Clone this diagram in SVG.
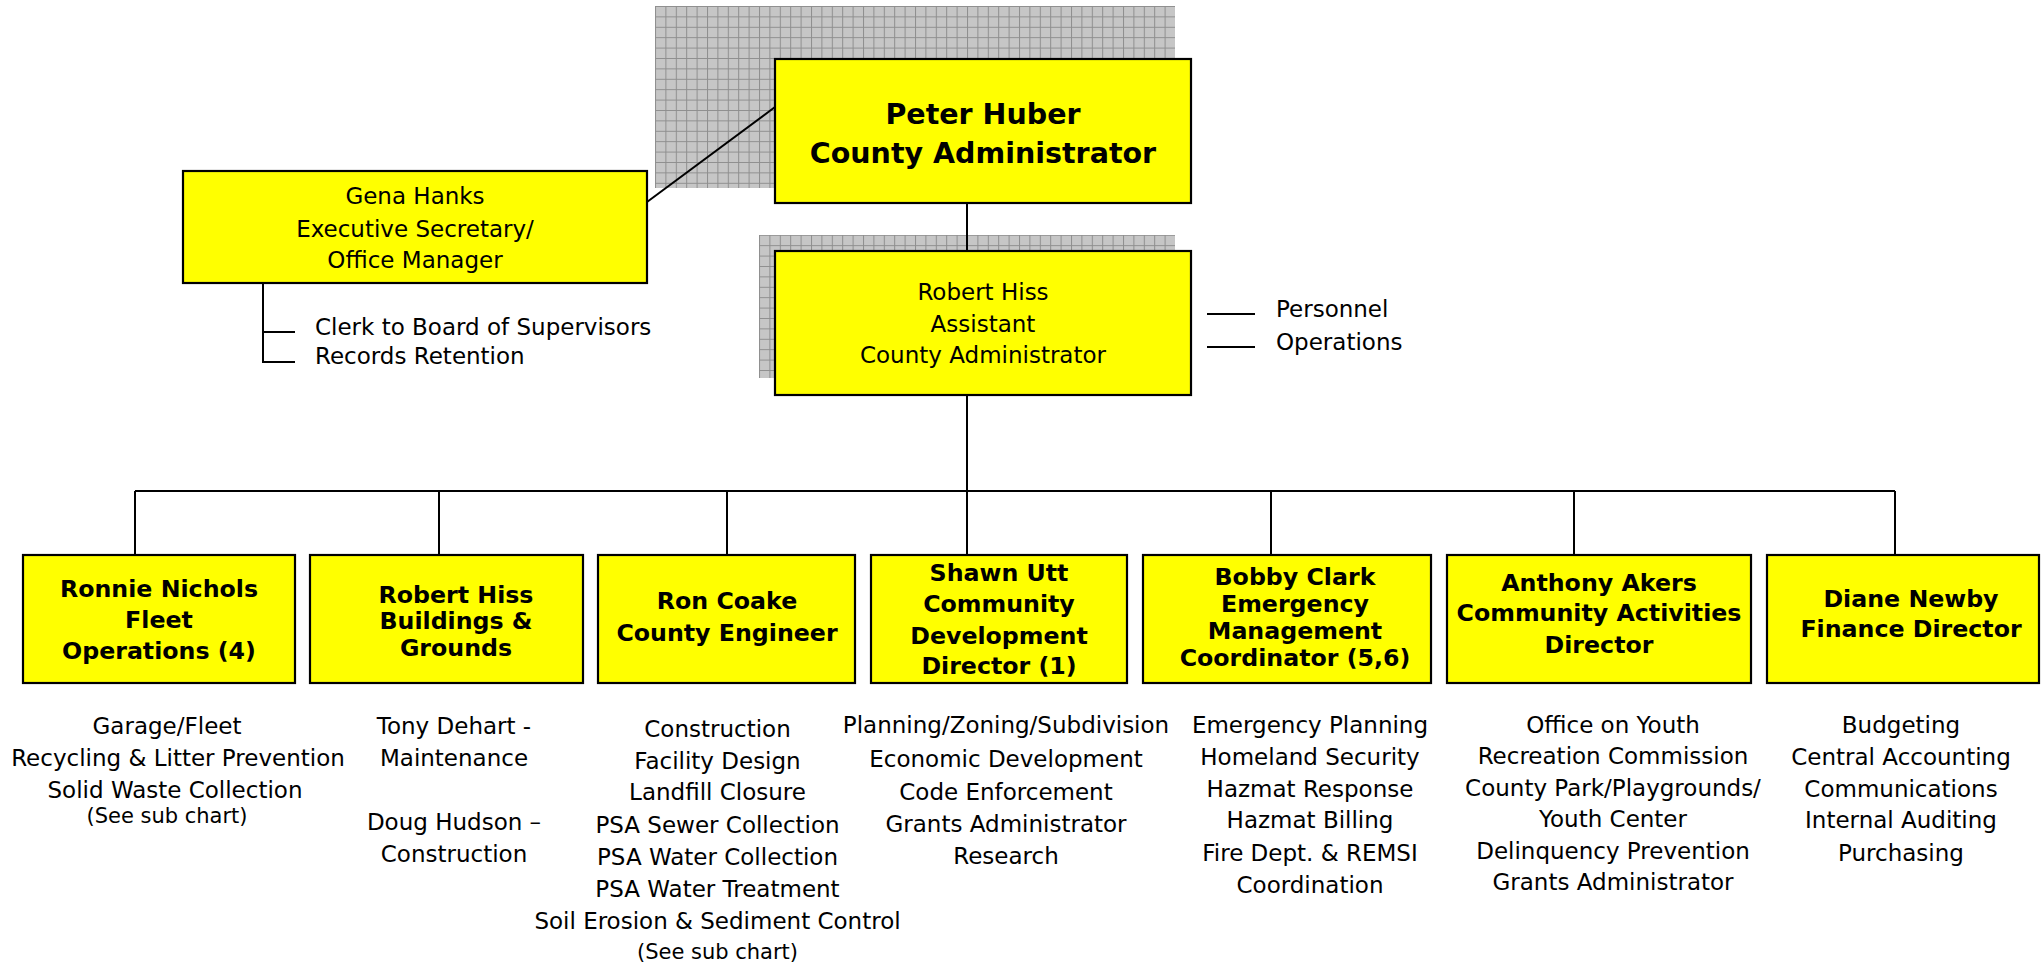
<svg xmlns="http://www.w3.org/2000/svg" width="2042" height="964" viewBox="0 0 2042 964">
<defs>
<pattern id="grid" patternUnits="userSpaceOnUse" x="655" y="6" width="10.4" height="10.4">
<rect width="10.4" height="10.4" fill="#c6c6c6"/>
<path d="M0 0.5H10.4M0.5 0V10.4" stroke="#8e8e8e" stroke-width="1"/>
</pattern>
<style>
.box{fill:#ffff00;stroke:#000;stroke-width:2.2}
.sh{fill:url(#grid)}
text{font-family:"DejaVu Sans",Verdana,sans-serif;fill:#000;text-anchor:middle}
.r{font-size:23px}
.s{font-size:21px}
.b{font-size:23.7px;font-weight:bold}
.big{font-size:28.5px;font-weight:bold}
.st{text-anchor:start}
.conn{stroke:#000;stroke-width:2;fill:none}
</style>
</defs>
<rect width="2042" height="964" fill="#fff"/>

<g id="shadows">
<rect class="sh" x="655" y="6" width="520" height="182"/>
<rect class="sh" x="759" y="235" width="416" height="143"/>
</g>

<g id="connectors" class="conn">
<path d="M647 202L775 107"/>
<path d="M967 203V251"/>
<path d="M967 395V555"/>
<path d="M135 491H1895"/>
<path d="M135 491V555M439 491V555M727 491V555M1271 491V555M1574 491V555M1895 491V555"/>
<path d="M263 283V362H295M263 332H295"/>
<path d="M1207 314H1255M1207 347H1255"/>
</g>

<g id="n-huber">
<rect class="box" x="775" y="59" width="416" height="144" stroke-width="2.6"/>
<text class="big" x="983" y="124">Peter Huber</text>
<text class="big" x="983" y="163">County Administrator</text>
</g>

<g id="n-hanks">
<rect class="box" x="183" y="171" width="464" height="112"/>
<text class="r" x="415" y="204">Gena Hanks</text>
<text class="r" x="415" y="237">Executive Secretary/</text>
<text class="r" x="415" y="268">Office Manager</text>
<text class="r st" x="315" y="335">Clerk to Board of Supervisors</text>
<text class="r st" x="315" y="364">Records Retention</text>
</g>

<g id="n-hiss-asst">
<rect class="box" x="775" y="251" width="416" height="144" stroke-width="2.6"/>
<text class="r" x="983" y="300">Robert Hiss</text>
<text class="r" x="983" y="332">Assistant</text>
<text class="r" x="983" y="363">County Administrator</text>
<text class="r st" x="1276" y="317">Personnel</text>
<text class="r st" x="1276" y="350">Operations</text>
</g>

<g id="n-nichols">
<rect class="box" x="23" y="555" width="272" height="128"/>
<text class="b" x="159" y="597">Ronnie Nichols</text>
<text class="b" x="159" y="628">Fleet</text>
<text class="b" x="159" y="659">Operations (4)</text>
<text class="r" x="167" y="734">Garage/Fleet</text>
<text class="r" x="178" y="766">Recycling &amp; Litter Prevention</text>
<text class="r" x="175" y="798">Solid Waste Collection</text>
<text class="s" x="167" y="823">(See sub chart)</text>
</g>

<g id="n-hiss-bg">
<rect class="box" x="310" y="555" width="273" height="128"/>
<text class="b" x="456" y="603">Robert Hiss</text>
<text class="b" x="456" y="629">Buildings &amp;</text>
<text class="b" x="456" y="656">Grounds</text>
<text class="r" x="454" y="734">Tony Dehart -</text>
<text class="r" x="454" y="766">Maintenance</text>
<text class="r" x="454" y="830">Doug Hudson –</text>
<text class="r" x="454" y="862">Construction</text>
</g>

<g id="n-coake">
<rect class="box" x="598" y="555" width="257" height="128"/>
<text class="b" x="727" y="609">Ron Coake</text>
<text class="b" x="727" y="641">County Engineer</text>
<text class="r" x="717.5" y="737">Construction</text>
<text class="r" x="717.5" y="769">Facility Design</text>
<text class="r" x="717.5" y="800">Landfill Closure</text>
<text class="r" x="717.5" y="833">PSA Sewer Collection</text>
<text class="r" x="717.5" y="865">PSA Water Collection</text>
<text class="r" x="717.5" y="897">PSA Water Treatment</text>
<text class="r" x="717.5" y="929">Soil Erosion &amp; Sediment Control</text>
<text class="s" x="717.5" y="959">(See sub chart)</text>
</g>

<g id="n-utt">
<rect class="box" x="871" y="555" width="256" height="128"/>
<text class="b" x="999" y="581">Shawn Utt</text>
<text class="b" x="999" y="612">Community</text>
<text class="b" x="999" y="644">Development</text>
<text class="b" x="999" y="674">Director (1)</text>
<text class="r" x="1006" y="733">Planning/Zoning/Subdivision</text>
<text class="r" x="1006" y="767">Economic Development</text>
<text class="r" x="1006" y="800">Code Enforcement</text>
<text class="r" x="1006" y="832">Grants Administrator</text>
<text class="r" x="1006" y="864">Research</text>
</g>

<g id="n-clark">
<rect class="box" x="1143" y="555" width="288" height="128"/>
<text class="b" x="1295" y="585">Bobby Clark</text>
<text class="b" x="1295" y="612">Emergency</text>
<text class="b" x="1295" y="639">Management</text>
<text class="b" x="1295" y="666">Coordinator (5,6)</text>
<text class="r" x="1310" y="733">Emergency Planning</text>
<text class="r" x="1310" y="765">Homeland Security</text>
<text class="r" x="1310" y="797">Hazmat Response</text>
<text class="r" x="1310" y="828">Hazmat Billing</text>
<text class="r" x="1310" y="861">Fire Dept. &amp; REMSI</text>
<text class="r" x="1310" y="893">Coordination</text>
</g>

<g id="n-akers">
<rect class="box" x="1447" y="555" width="304" height="128"/>
<text class="b" x="1599" y="591">Anthony Akers</text>
<text class="b" x="1599" y="621">Community Activities</text>
<text class="b" x="1599" y="653">Director</text>
<text class="r" x="1613" y="733">Office on Youth</text>
<text class="r" x="1613" y="764">Recreation Commission</text>
<text class="r" x="1613" y="796">County Park/Playgrounds/</text>
<text class="r" x="1613" y="827">Youth Center</text>
<text class="r" x="1613" y="859">Delinquency Prevention</text>
<text class="r" x="1613" y="890">Grants Administrator</text>
</g>

<g id="n-newby">
<rect class="box" x="1767" y="555" width="272" height="128"/>
<text class="b" x="1911" y="607">Diane Newby</text>
<text class="b" x="1911" y="637">Finance Director</text>
<text class="r" x="1901" y="733">Budgeting</text>
<text class="r" x="1901" y="765">Central Accounting</text>
<text class="r" x="1901" y="797">Communications</text>
<text class="r" x="1901" y="828">Internal Auditing</text>
<text class="r" x="1901" y="861">Purchasing</text>
</g>
</svg>
